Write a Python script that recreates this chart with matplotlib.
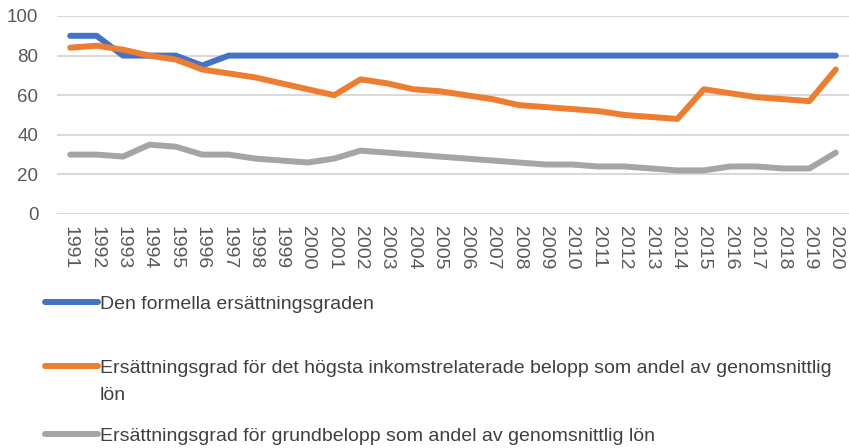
import matplotlib
matplotlib.use("Agg")
import matplotlib.pyplot as plt

years = list(range(1991, 2021))

formell = [90, 90, 80, 80, 80, 75, 80, 80, 80, 80,
           80, 80, 80, 80, 80, 80, 80, 80, 80, 80,
           80, 80, 80, 80, 80, 80, 80, 80, 80, 80]
hogsta = [84, 85, 83, 80, 78, 73, 71, 69, 66, 63,
          60, 68, 66, 63, 62, 60, 58, 55, 54, 53,
          52, 50, 49, 48, 63, 61, 59, 58, 57, 73]
grund = [30, 30, 29, 35, 34, 30, 30, 28, 27, 26,
         28, 32, 31, 30, 29, 28, 27, 26, 25, 25,
         24, 24, 23, 22, 22, 24, 24, 23, 23, 31]

labels = ["Den formella ersättningsgraden",
          "Ersättningsgrad för det högsta inkomstrelaterade belopp som andel av genomsnittlig",
          "Ersättningsgrad för grundbelopp som andel av genomsnittlig lön"]
colors = ["#4472C4", "#ED7D31", "#A5A5A5"]

plt.rcParams['font.family'] = ['Liberation Sans', 'DejaVu Sans']

fig = plt.figure(figsize=(8.49, 4.48), dpi=100)
ax = fig.add_axes([57 / 849, 1 - 214 / 448, 1 - 57 / 849, 198 / 448])

x = list(range(len(years)))
lines = []
for vals, c, lab in zip([formell, hogsta, grund], colors, labels):
    ln, = ax.plot(x, vals, color=c, lw=4.3, solid_capstyle='round',
                  solid_joinstyle='round', label=lab, zorder=3)
    lines.append(ln)

ax.set_ylim(0, 100)
ax.set_xlim(-0.5, len(years) - 0.5)
ax.set_yticks(range(0, 101, 20))
ax.set_xticks(x)
ax.set_xticklabels([str(y) for y in years], rotation=-90, va='top', ha='center')
ax.tick_params(axis='both', length=0, colors='#595959')
ax.tick_params(axis='y', pad=13.5, labelsize=13.5)
ax.tick_params(axis='x', pad=9, labelsize=14)
ax.grid(axis='y', color='#D9D9D9', lw=1.5, zorder=0)
for s in ax.spines.values():
    s.set_visible(False)

# legend entries, one per row like the original
legend_y = [304, 368, 436]
for ln, yy in zip(lines, legend_y):
    lg = fig.legend(handles=[ln], loc='center left',
                    bbox_to_anchor=(45 / 849, 1 - yy / 448),
                    frameon=False, fontsize=14, handlelength=2.7,
                    handletextpad=0.15, borderpad=0, borderaxespad=0)
    for t in lg.get_texts():
        t.set_color('#404040')

# wrapped second line of the orange legend label
fig.text(100 / 849, 1 - 395 / 448, "lön", fontsize=14, color='#404040',
         va='center', ha='left')

fig.savefig("out.png", dpi=100)
